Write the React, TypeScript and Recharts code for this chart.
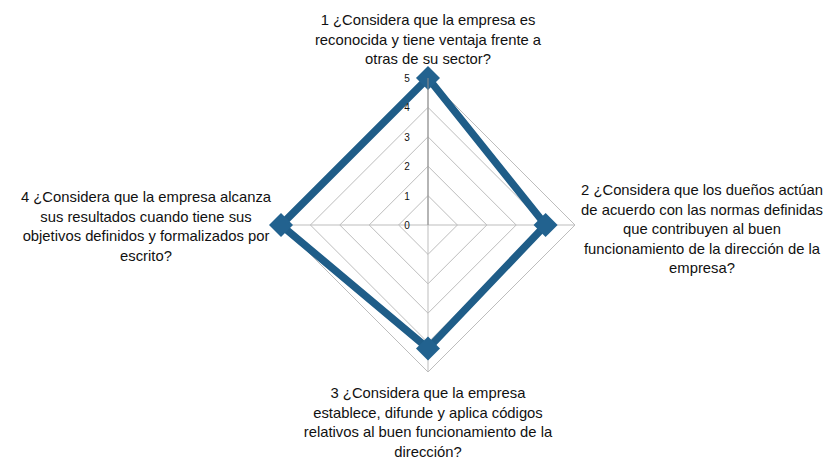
import React from "react";
import {
  RadarChart,
  Radar,
  PolarGrid,
  PolarAngleAxis,
  PolarRadiusAxis,
} from "recharts";

// Question labels, already wrapped the way the picture shows them
const questionLines = [
  ["1 ¿Considera que la empresa es", "reconocida y tiene ventaja frente a", "otras de su sector?"],
  [
    "2 ¿Considera que los dueños actúan",
    "de acuerdo con las normas definidas",
    "que contribuyen al buen",
    "funcionamiento de la dirección de la",
    "empresa?",
  ],
  [
    "3 ¿Considera que la empresa",
    "establece, difunde y aplica códigos",
    "relativos al buen funcionamiento de la",
    "dirección?",
  ],
  [
    "4 ¿Considera que la empresa alcanza",
    "sus resultados cuando tiene sus",
    "objetivos definidos y formalizados por",
    "escrito?",
  ],
];

const categories = ["1", "2", "3", "4"];
const scores = [5, 4, 4.2, 5];
const radiusTicks = [0, 1, 2, 3, 4, 5];

const chartData = categories.map((c, i) => ({ name: c, value: scores[i] }));

const CX = 428;
const CY = 225;
const R = 147;
const LINE_H = 19.5;
const FONT = "'Liberation Sans', Arial, sans-serif";

const AngleTick = (props: any) => {
  const { x, y, payload } = props;
  const idx = categories.indexOf(String(payload.value));
  const lines = questionLines[idx] || [];
  const dx = x - CX;
  const dy = y - CY;
  let bx = x;
  let firstY = y;
  if (Math.abs(dx) < 1) {
    if (dy < 0) {
      firstY = y - 11 - (lines.length - 1) * LINE_H;
    } else {
      firstY = y + 13;
    }
  } else if (dx > 0) {
    bx = x + 119;
    firstY = y + 4 - ((lines.length - 1) * LINE_H) / 2;
  } else {
    bx = x - 127;
    firstY = y + 1.5 - ((lines.length - 1) * LINE_H) / 2;
  }
  return (
    <g>
      {lines.map((l, i) => (
        <text
          key={i}
          x={bx}
          y={firstY + i * LINE_H}
          dy={5}
          textAnchor="middle"
          fontSize={14.8}
          fontFamily={FONT}
          fill="#111"
        >
          {l}
        </text>
      ))}
    </g>
  );
};

const RadiusTick = (props: any) => {
  const { x, y, payload } = props;
  return (
    <text
      x={x - 21}
      y={y + 4}
      textAnchor="middle"
      fontSize={10}
      fontFamily={FONT}
      fill="#111"
    >
      {payload.value}
    </text>
  );
};

// outline drawn from the points recharts computed
const RadarShape = (props: any) => {
  const pts: any[] = props.points || [];
  if (!pts.length) return null;
  const d =
    pts.map((p, i) => `${i === 0 ? "M" : "L"}${p.x},${p.y}`).join(" ") + " Z";
  return (
    <g>
      <path d={d} fill="none" stroke="#1f5d88" strokeWidth={7.5} />
      {pts.map((p, i) => (
        <rect
          key={i}
          x={p.x - 8.5}
          y={p.y - 8.5}
          width={17}
          height={17}
          fill="#22628f"
          transform={`rotate(45 ${p.x} ${p.y})`}
        />
      ))}
    </g>
  );
};

export default function App() {
  return (
    <div style={{ position: "absolute", left: 0, top: 0, background: "#fff" }}>
      <RadarChart
        width={833}
        height={459}
        data={chartData}
        cx={CX}
        cy={CY}
        outerRadius={R}
        startAngle={90}
        endAngle={-270}
        margin={{ top: 0, right: 0, bottom: 0, left: 0 }}
      >
        <PolarGrid gridType="polygon" stroke="#bdbdbd" strokeWidth={1} />
        <PolarAngleAxis
          dataKey="name"
          tick={<AngleTick />}
          tickLine={false}
          axisLine={false}
        />
        <PolarRadiusAxis
          angle={90}
          domain={[0, 5]}
          ticks={radiusTicks as any}
          tickCount={6}
          tick={<RadiusTick />}
          axisLine={{ stroke: "#8c8c8c" }}
          tickLine={false}
        />
        <Radar
          dataKey="value"
          shape={<RadarShape />}
          isAnimationActive={false}
        />
      </RadarChart>
    </div>
  );
}
